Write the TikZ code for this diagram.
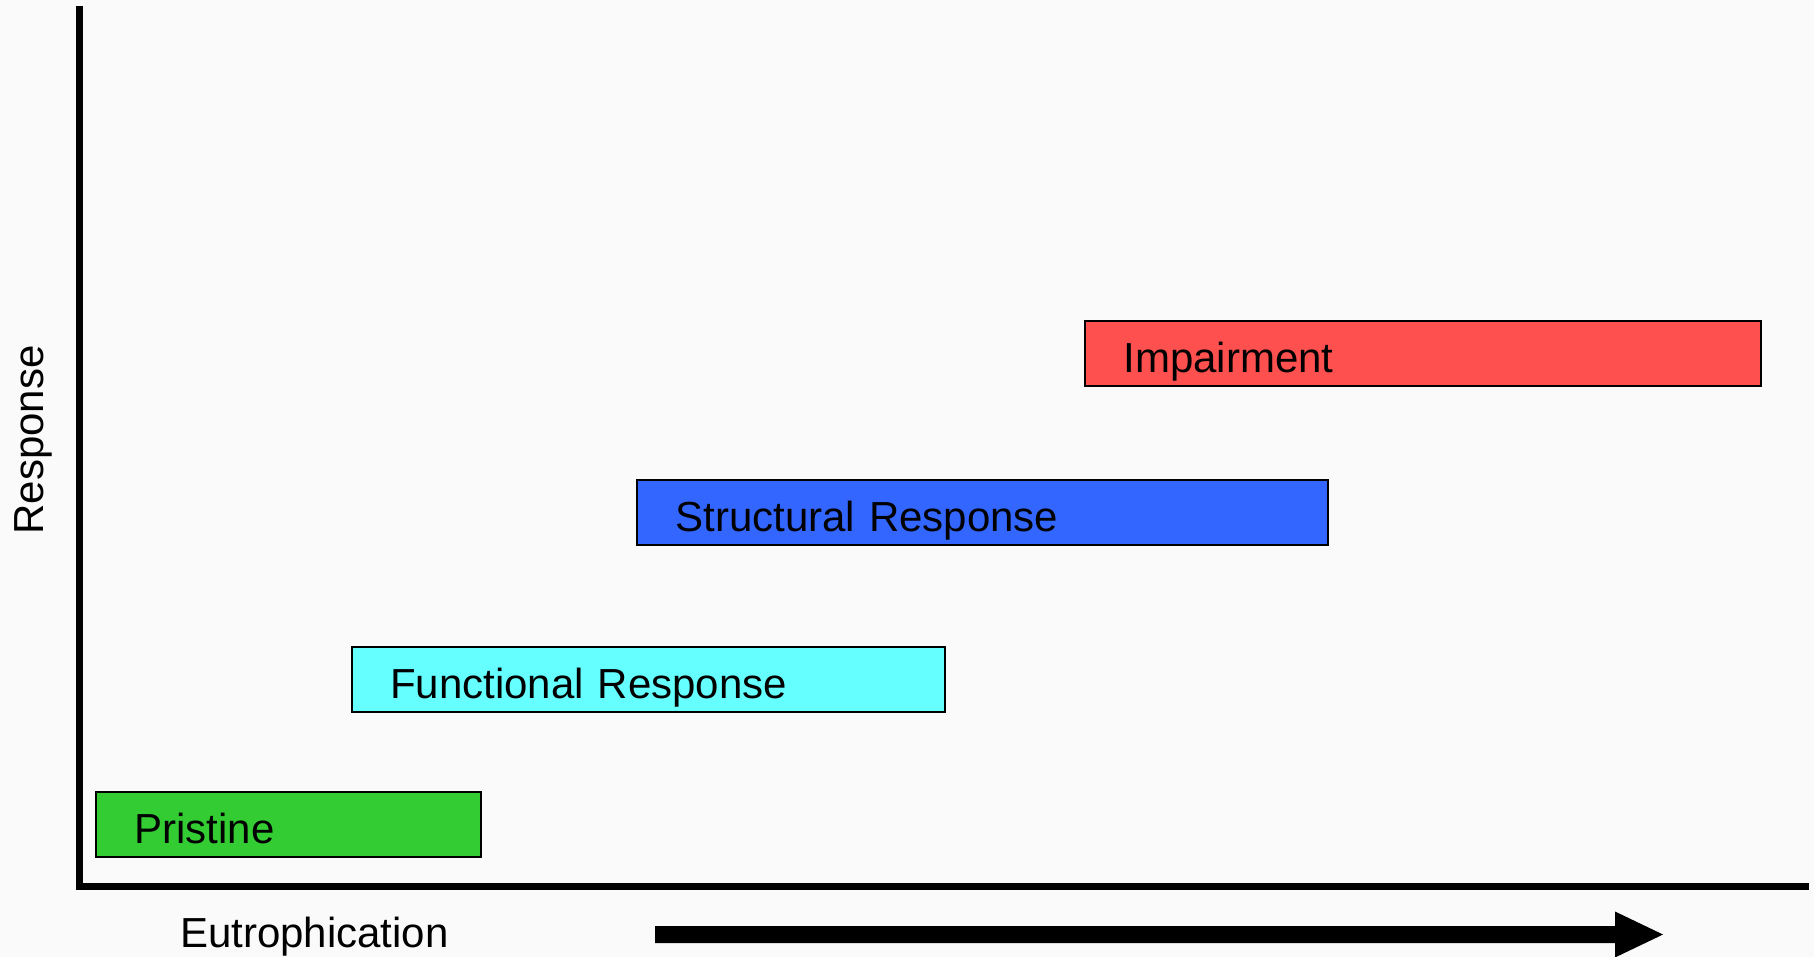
\documentclass[tikz,border=0pt]{standalone}
\usepackage{fontspec}
\setmainfont{Liberation Sans}
\definecolor{bgc}{HTML}{FAFAFA}
\definecolor{pristc}{HTML}{33CC33}
\definecolor{funcc}{HTML}{66FFFF}
\definecolor{structc}{HTML}{3366FF}
\definecolor{impc}{HTML}{FF5050}
\tikzset{
  bigtext/.style={font=\fontsize{42}{50}\selectfont},
  stagebox/.style={draw=black, line width=2pt, anchor=north west, bigtext,
    minimum height=65pt, inner ysep=0pt, inner xsep=38.5pt,
    text height=38pt, text depth=0pt, align=left},
  axisline/.style={line width=7pt, line join=miter, line cap=rect},
}
\begin{document}
\begin{tikzpicture}[x=1pt,y=-1pt]
\fill[bgc] (0,0) rectangle (1814,957);
\useasboundingbox (0,0) rectangle (1814,957);
% axes
\coordinate (ytop) at (79.5,10);
\coordinate (origin) at (79.5,886.5);
\coordinate (xend) at (1805,886.5);
\draw[axisline] (ytop) -- (origin) -- (xend);
% boxes
\node[stagebox, fill=pristc, minimum width=385pt, text width=308pt] (pristine) at (95,790.5) {Pristine};
\node[stagebox, fill=funcc, minimum width=593.5pt, text width=516.5pt] (functional) at (350.5,645.5) {Functional Response};
\node[stagebox, fill=structc, minimum width=691pt, text width=614pt] (structural) at (636,479) {Structural Response};
\node[stagebox, fill=impc, minimum width=676pt, text width=599pt] (impairment) at (1084,320) {Impairment};
% labels
\node[bigtext, anchor=base, rotate=90, inner sep=0pt] (response) at (43,440) {Response};
\node[bigtext, anchor=base west, inner sep=0pt] (eutro) at (180,947) {Eutrophication};
% big arrow
\fill[black] (655,926) -- (1615,926) -- (1615,911.5) -- (1663,934.5) -- (1615,957.5) -- (1615,943) -- (655,943) -- cycle;
\end{tikzpicture}
\end{document}
